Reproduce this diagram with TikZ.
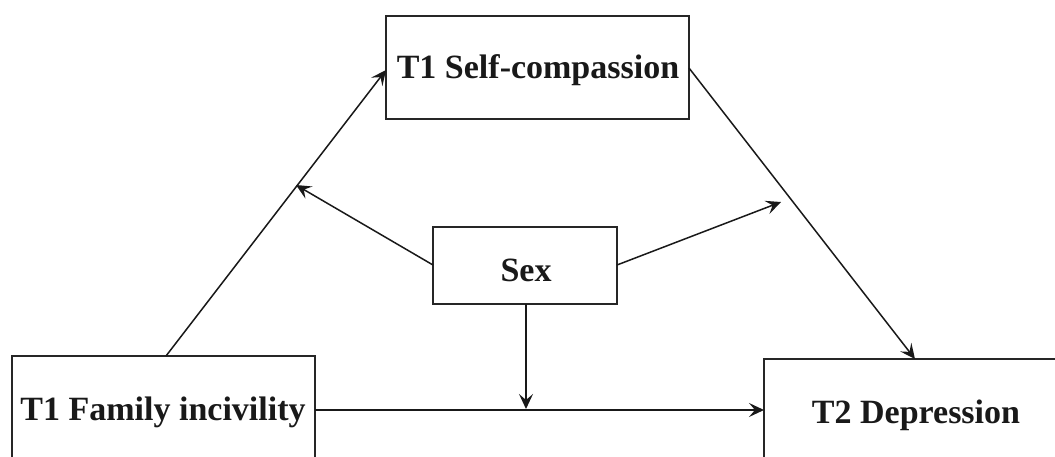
\documentclass[tikz,border=0pt]{standalone}
\usepackage{fontspec}
\setmainfont{Liberation Serif}
\usetikzlibrary{arrows.meta}
\begin{document}
\begin{tikzpicture}[x=1pt,y=-1pt,
  box/.style={draw=black!85,line width=2pt,fill=white},
  lbl/.style={font=\fontsize{34}{40}\selectfont\bfseries,text=black!90},
  conn/.style={line width=1.5pt,black!90,-{Stealth[length=15pt,width=14pt,inset=6pt]}}]
\useasboundingbox (0,0) rectangle (1055,457);
\clip (0,0) rectangle (1055,457);
% boxes
\draw[box] (386,16) rectangle (689,119);
\draw[box] (433,227) rectangle (617,304);
\draw[box] (12,356) rectangle (315,468);
\draw[box] (764,359) rectangle (1070,471);
% named anchor coordinates
\coordinate (fiTop) at (166,356);
\coordinate (fiRight) at (315,410);
\coordinate (scLeft) at (386,70);
\coordinate (scRight) at (689,68);
\coordinate (dpTop) at (915,359);
\coordinate (dpLeft) at (764,410);
\coordinate (sxLeft) at (433,265);
\coordinate (sxRight) at (617,265);
\coordinate (sxBottom) at (526,304);
\coordinate (modL) at (296,185);
\coordinate (modR) at (781,202);
\coordinate (modB) at (526,409);
% labels
\node[lbl] (scT) at (538,70) {T1 Self-compassion};
\node[lbl] (sxT) at (526,270) {Sex};
\node[lbl] (fiT) at (163,412) {T1 Family incivility};
\node[lbl] (dpT) at (916,415) {T2 Depression};
% connectors
\draw[conn] (fiTop) -- (scLeft);
\draw[conn] (scRight) -- (dpTop);
\draw[conn] (fiRight) -- (dpLeft);
\draw[conn] (sxLeft) -- (modL);
\draw[conn] (sxRight) -- (modR);
\draw[conn] (sxBottom) -- (modB);
\end{tikzpicture}
\end{document}
